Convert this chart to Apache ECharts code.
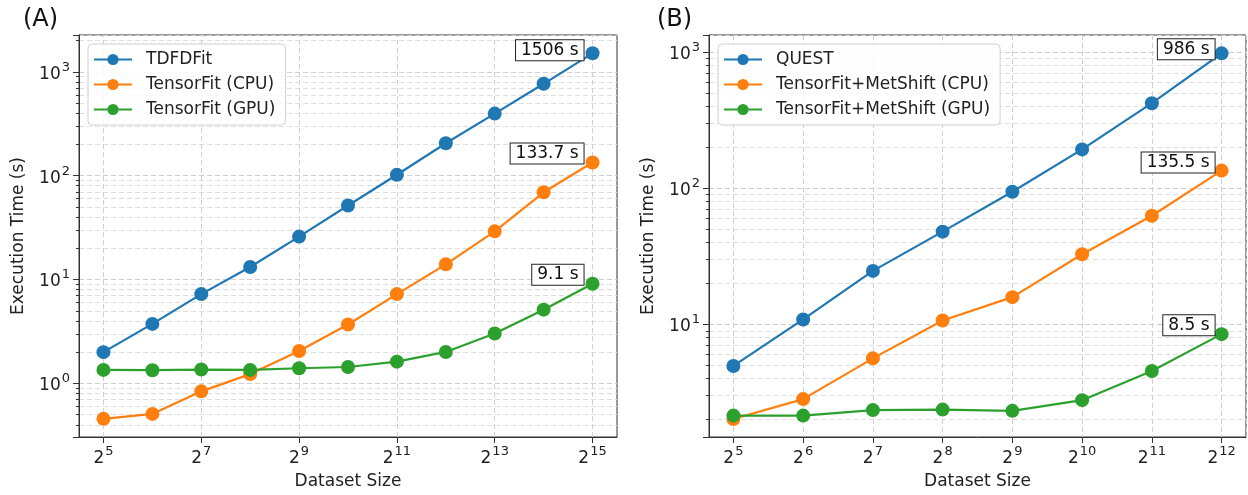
<!DOCTYPE html>
<html><head><meta charset="utf-8">
<script src="https://cdn.jsdelivr.net/npm/echarts@6/dist/echarts.min.js"></script>
<style>html,body{margin:0;padding:0;background:#fff}#c{width:1248px;height:495px}</style>
</head><body><div id="c"></div>
<script>
// ---- data (A) ----
const expA = [5, 6, 7, 8, 9, 10, 11, 12, 13, 14, 15];          // dataset size = 2^exp
const xTicksA = [5, 7, 9, 11, 13, 15];                          // labelled exponents in (A)
const tdfdfit    = [2.0, 3.74, 7.24, 13.2, 25.9, 51.6, 102, 205, 396, 766, 1506];
const tensorCpuA = [0.456, 0.509, 0.839, 1.23, 2.05, 3.69, 7.24, 14.0, 29.1, 69.2, 133.7];
const tensorGpuA = [1.35, 1.34, 1.36, 1.35, 1.40, 1.44, 1.62, 2.01, 3.02, 5.13, 9.1];
const namesA = ['TDFDFit', 'TensorFit (CPU)', 'TensorFit (GPU)'];
// ---- data (B) ----
const sizesB  = [32, 64, 128, 256, 512, 1024, 2048, 4096];
const quest   = [4.96, 10.9, 24.8, 48.2, 94.6, 194, 424, 986];
const metCpuB = [2.02, 2.83, 5.64, 10.7, 15.9, 32.9, 63.1, 135.5];
const metGpuB = [2.14, 2.14, 2.35, 2.37, 2.32, 2.78, 4.56, 8.5];
const namesB = ['QUEST', 'TensorFit+MetShift (CPU)', 'TensorFit+MetShift (GPU)'];

const COLORS = ['#1f77b4', '#ff7f0e', '#2ca02c'];
const FONT = 'DejaVu Sans';
const GRIDC = '#d0d0d0';

const chart = echarts.init(document.getElementById('c'), null, {renderer: 'canvas'});

const rich = {
  b: {fontSize: 17, fontFamily: FONT, color: '#222', lineHeight: 22, verticalAlign: 'bottom'},
  s: {fontSize: 13, fontFamily: FONT, color: '#222', lineHeight: 22, verticalAlign: 'top', padding: [0, 0, 0, 1]}
};
function powLabel(base, v) {
  const e = Math.log(v) / Math.log(base);
  const r = Math.round(e);
  if (Math.abs(e - r) > 1e-6) return '';
  return '{b|' + base + '}{s|' + r + '}';
}

const annoBase = {
  show: true, position: 'left', backgroundColor: '#fff', borderColor: '#222', borderWidth: 1,
  padding: [2, 5, 1, 5], fontSize: 17, fontFamily: FONT, color: '#111',
  formatter: p => (Array.isArray(p.value) ? p.value[1] : p.value) + ' s'
};
function withLast(arr, labelOpt) {
  return arr.map((v, i) => i === arr.length - 1 ? {value: v, label: Object.assign({}, annoBase, labelOpt)} : v);
}

function yAxisCfg(grid, min, max) {
  return {
    type: 'log', logBase: 10, gridIndex: grid, min: min, max: max,
    name: 'Execution Time (s)', nameLocation: 'middle', nameGap: 52, nameRotate: 90,
    nameTextStyle: {fontSize: 17, fontFamily: FONT, color: '#222'},
    axisLine: {show: true, lineStyle: {color: '#333', width: 1}},
    axisTick: {show: true, length: 6, lineStyle: {color: '#333'}},
    minorTick: {show: true, splitNumber: 9, length: 3, lineStyle: {color: '#333'}},
    axisLabel: {margin: 9, formatter: v => powLabel(10, v), rich: rich, showMinLabel: false, showMaxLabel: false},
    splitLine: {show: true, lineStyle: {color: GRIDC, type: [5, 3], width: 1}},
    minorSplitLine: {show: true, lineStyle: {color: '#dedede', type: [5, 3], width: 1}}
  };
}

const xNameStyle = {fontSize: 17, fontFamily: FONT, color: '#222'};

const legendBase = {
  orient: 'vertical', itemWidth: 38, itemHeight: 14, itemGap: 8,
  padding: [7, 10, 7, 5], borderColor: '#d0d0d0', borderWidth: 1, borderRadius: 4,
  backgroundColor: 'rgba(255,255,255,0.85)',
  textStyle: {fontSize: 17, fontFamily: FONT, color: '#222', padding: [0, 0, 0, 9]}
};

function lineSeries(name, data, idx, xi) {
  return {
    name: name, type: 'line', xAxisIndex: xi, yAxisIndex: xi, data: data,
    symbol: 'circle', symbolSize: 14, showSymbol: true,
    lineStyle: {width: 2.2, color: COLORS[idx]}, itemStyle: {color: COLORS[idx]},
    emphasis: {disabled: true}, z: 3
  };
}

const sA0 = lineSeries(namesA[0], withLast(tdfdfit, {distance: 2, offset: [0, -3]}), 0, 0);
sA0.markLine = {
  silent: true, symbol: ['none', 'none'], label: {show: false}, z: 1,
  lineStyle: {color: GRIDC, type: [5, 3], width: 1}, emphasis: {disabled: true},
  data: xTicksA.map(e => ({xAxis: String(e)}))
};

const option = {
  animation: false,
  title: [
    {text: '(A)', left: 18, top: 3, textStyle: {fontSize: 24, fontWeight: 'normal', fontFamily: FONT, color: '#111'}},
    {text: '(B)', left: 652, top: 3, textStyle: {fontSize: 24, fontWeight: 'normal', fontFamily: FONT, color: '#111'}}
  ],
  grid: [
    {left: 79, top: 35, width: 538, height: 404, show: true, borderColor: '#333', borderWidth: 1, backgroundColor: 'rgba(0,0,0,0)'},
    {left: 709, top: 35, width: 537, height: 404, show: true, borderColor: '#333', borderWidth: 1, backgroundColor: 'rgba(0,0,0,0)'}
  ],
  legend: [
    Object.assign({}, legendBase, {data: namesA, left: 88, top: 44}),
    Object.assign({}, legendBase, {data: namesB, left: 718, top: 44})
  ],
  xAxis: [
    {
      type: 'category', gridIndex: 0, data: expA.map(String), boundaryGap: true,
      name: 'Dataset Size', nameLocation: 'middle', nameGap: 36, nameTextStyle: xNameStyle,
      axisLine: {show: true, lineStyle: {color: '#333'}},
      axisTick: {show: true, alignWithLabel: true, interval: 1, length: 6, lineStyle: {color: '#333'}},
      axisLabel: {interval: 1, margin: 8, formatter: v => '{b|2}{s|' + v + '}', rich: rich},
      splitLine: {show: false}
    },
    {
      type: 'log', logBase: 2, gridIndex: 1, min: Math.pow(2, 4.65), max: Math.pow(2, 12.35),
      name: 'Dataset Size', nameLocation: 'middle', nameGap: 36, nameTextStyle: xNameStyle,
      axisLine: {show: true, lineStyle: {color: '#333'}},
      axisTick: {show: true, length: 6, lineStyle: {color: '#333'}},
      axisLabel: {margin: 8, formatter: v => powLabel(2, v), rich: rich, showMinLabel: false, showMaxLabel: false},
      splitLine: {show: true, lineStyle: {color: GRIDC, type: [5, 3], width: 1}}
    }
  ],
  yAxis: [yAxisCfg(0, 0.305, 2260), yAxisCfg(1, 1.49, 1345)],
  series: [
    sA0,
    lineSeries(namesA[1], withLast(tensorCpuA, {distance: 2, offset: [0, -9]}), 1, 0),
    lineSeries(namesA[2], withLast(tensorGpuA, {distance: 2, offset: [0, -9]}), 2, 0),
    lineSeries(namesB[0], withLast(sizesB.map((s, i) => [s, quest[i]]), {distance: 0, offset: [0, -4]}), 0, 1),
    lineSeries(namesB[1], withLast(sizesB.map((s, i) => [s, metCpuB[i]]), {distance: 0, offset: [0, -8]}), 1, 1),
    lineSeries(namesB[2], withLast(sizesB.map((s, i) => [s, metGpuB[i]]), {distance: 0, offset: [0, -9]}), 2, 1)
  ]
};
chart.setOption(option);
</script></body></html>
